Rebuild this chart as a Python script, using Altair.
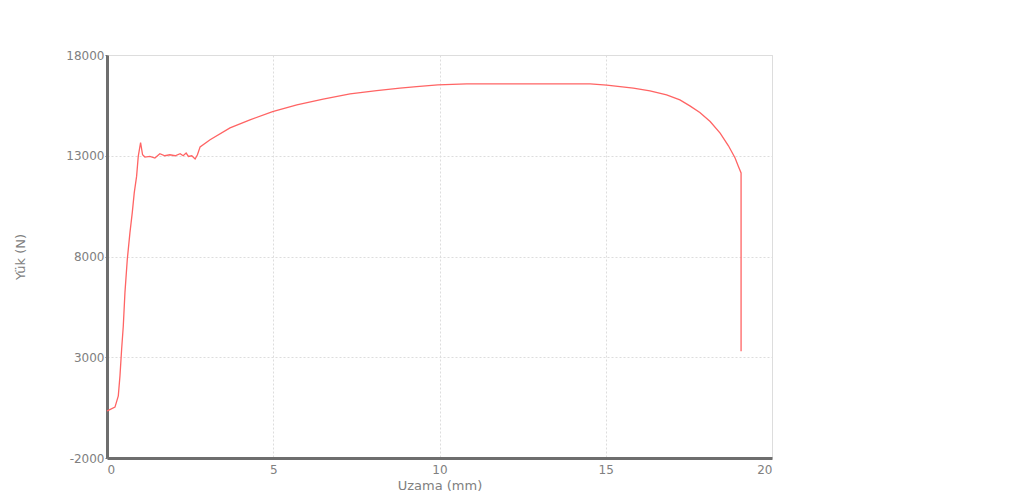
import altair as alt
import pandas as pd

# Elongation (mm)
uzama = [0.00, 0.01, 0.24, 0.34, 0.39, 0.44, 0.49, 0.54, 0.61, 0.69, 0.76, 0.82, 0.89, 0.94,
         1.01, 1.07, 1.14, 1.29, 1.44, 1.59, 1.74, 1.89, 2.05, 2.20, 2.29, 2.38, 2.45, 2.55,
         2.65, 2.72, 2.80, 3.10, 3.70, 4.30, 4.98, 5.71, 6.50, 7.31, 8.11, 8.81, 9.31, 9.95,
         10.82, 12.00, 13.50, 14.53, 15.03, 15.43, 15.83, 16.33, 16.83, 17.23, 17.53, 17.83,
         18.14, 18.44, 18.69, 18.89, 18.99, 19.07, 19.07]
# Load (N)
yuk = [330, 342, 525, 1084, 2074, 3396, 4550, 6218, 7851, 9188, 10178, 11168, 11975, 12965,
       13658, 13050, 12936, 12965, 12886, 13099, 13000, 13050, 13000, 13099, 13000, 13134,
       12965, 13000, 12837, 13050, 13440, 13792, 14386, 14782, 15193, 15525, 15807, 16069,
       16233, 16351, 16431, 16515, 16564, 16570, 16570, 16564, 16500, 16431, 16351, 16218,
       16020, 15772, 15475, 15144, 14698, 14124, 13495, 12886, 12470, 12144, 3297]

x_ticks = [0, 5, 10, 15, 20]
y_ticks = [-2000, 3000, 8000, 13000, 18000]

df = pd.DataFrame({"uzama": uzama, "yuk": yuk, "order": list(range(len(uzama)))})

font = "DejaVu Sans"

chart = alt.Chart(df).mark_line(color="#ff6464", strokeWidth=1.3).encode(
    x=alt.X("uzama:Q", title="Uzama (mm)",
            scale=alt.Scale(domain=[0, 20], nice=False, zero=False),
            axis=alt.Axis(values=x_ticks, labelExpr="'' + datum.value", grid=True,
                          gridColor="#dddddd", gridDash=[2, 2],
                          domainColor="#6e6e6e", domainWidth=3, tickSize=0,
                          labelColor="#808080", labelFont=font, labelFontSize=12,
                          labelPadding=6, titleColor="#808080", titleFont=font,
                          titleFontSize=13, titleFontWeight="normal", titlePadding=4)),
    y=alt.Y("yuk:Q", title="Yük (N)",
            scale=alt.Scale(domain=[-2000, 18000], nice=False, zero=False),
            axis=alt.Axis(values=y_ticks, labelExpr="'' + datum.value", grid=True,
                          gridColor="#dddddd", gridDash=[2, 2],
                          domainColor="#6e6e6e", domainWidth=3, tickSize=2, tickColor="#6e6e6e",
                          labelColor="#808080", labelFont=font, labelFontSize=12,
                          labelPadding=1, titleColor="#808080", titleFont=font,
                          titleFontSize=13, titleFontWeight="normal", titlePadding=38)),
    order="order:Q",
).properties(
    width=665, height=403,
    padding={"left": 107, "top": 55, "right": 240, "bottom": 44},
    autosize=alt.AutoSizeParams(type="none"),
).configure_view(stroke=None).configure(background="white")

chart.save("out.html", embed_options={"renderer": "svg", "actions": False})
